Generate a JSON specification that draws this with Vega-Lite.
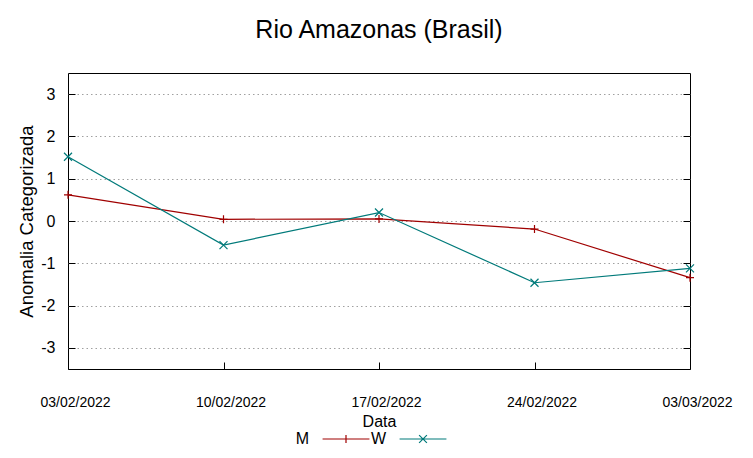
{
  "$schema": "https://vega.github.io/schema/vega-lite/v6.json",
  "width": 622,
  "height": 296,
  "autosize": "none",
  "padding": {"left": 68, "top": 73, "right": 63, "bottom": 89},
  "background": "white",
  "title": {"text": "Rio Amazonas (Brasil)", "fontSize": 25, "font": "Liberation Sans", "fontWeight": "normal", "color": "black", "offset": 30},
  "config": {
    "view": {"stroke": "black", "strokeWidth": 1},
    "font": "Liberation Sans",
    "axis": {"labelColor": "black", "titleColor": "black", "labelFont": "Liberation Sans", "titleFont": "Liberation Sans", "titleFontWeight": "normal", "labelFontWeight": "normal"},
    "axisY": {"titleFontSize": 18.5},
    "axisX": {"titleFontSize": 16},
    "legend": {"symbolType": "M-6,0H6"}
  },
  "data": {
    "values": [
      {"data": "03/02/2022", "serie": "M", "valor": 0.62},
      {"data": "10/02/2022", "serie": "M", "valor": 0.04},
      {"data": "17/02/2022", "serie": "M", "valor": 0.05},
      {"data": "24/02/2022", "serie": "M", "valor": -0.19},
      {"data": "03/03/2022", "serie": "M", "valor": -1.34},
      {"data": "03/02/2022", "serie": "W", "valor": 1.52},
      {"data": "10/02/2022", "serie": "W", "valor": -0.57},
      {"data": "17/02/2022", "serie": "W", "valor": 0.2},
      {"data": "24/02/2022", "serie": "W", "valor": -1.46},
      {"data": "03/03/2022", "serie": "W", "valor": -1.12}
    ]
  },
  "layer": [
    {
      "mark": {"type": "line", "strokeWidth": 1.2, "clip": false},
      "encoding": {
        "x": {
          "field": "data", "type": "ordinal", "sort": null,
          "scale": {"type": "point", "padding": 0},
          "axis": {"title": "Data", "titleFontSize": 16, "titlePadding": 4, "labelFontSize": 14, "labelFontWeight": "normal", "labelAngle": 0, "labelPadding": 33, "labelOffset": 7, "tickSize": -7, "tickColor": "black", "domain": false, "grid": false}
        },
        "y": {
          "field": "valor", "type": "quantitative",
          "scale": {"domain": [-3.5, 3.5], "nice": false, "zero": false},
          "axis": {"title": "Anomalia Categorizada", "titleFontSize": 18.5, "titlePadding": 4, "labelFontSize": 16, "values": [-3, -2, -1, 0, 1, 2, 3], "labelExpr": "'' + datum.value", "labelPadding": 20, "tickSize": -7, "tickColor": "black", "domain": false, "grid": true, "gridColor": "#a0a0a0", "gridDash": [1.5, 3], "gridWidth": 1}
        },
        "color": {
          "field": "serie", "type": "nominal", "scale": {"domain": ["M", "W"], "range": ["#a00000", "#007a7a"]},
          "legend": {
            "title": null, "orient": "none", "direction": "horizontal", "legendX": 270, "legendY": 358,
            "labelFontSize": 16, "labelColor": "black", "labelAlign": "right", "labelOffset": -45, "columnPadding": -2,
            "symbolType": "M-6,0H6", "symbolSize": 61, "symbolStrokeWidth": 1.2,
            "encode": {"symbols": {"update": {"shape": {"signal": "datum.value == 'M' ? 'M-6,0H6M0,-1V1' : 'M-6,0H6M-1,-1L1,1M-1,1L1,-1'"}}}}
          }
        }
      }
    },
    {
      "mark": {"type": "point", "filled": false, "strokeWidth": 1.2, "size": 64, "opacity": 1, "clip": false},
      "encoding": {
        "x": {"field": "data", "type": "ordinal", "sort": null, "scale": {"type": "point", "padding": 0}},
        "y": {
          "field": "valor", "type": "quantitative",
          "scale": {"domain": [-3.5, 3.5], "nice": false, "zero": false},
          "axis": {"orient": "right", "title": null, "labels": false, "values": [-3, -2, -1, 0, 1, 2, 3], "tickSize": -7, "tickColor": "black", "domain": false, "grid": false}
        },
        "color": {
          "field": "serie", "type": "nominal",
          "legend": {
            "title": null, "orient": "none", "direction": "horizontal", "legendX": 270, "legendY": 358,
            "labelFontSize": 16, "labelColor": "black", "labelAlign": "right", "labelOffset": -45, "columnPadding": -2,
            "symbolType": "M-6,0H6", "symbolSize": 61, "symbolStrokeWidth": 1.2,
            "encode": {"symbols": {"update": {"shape": {"signal": "datum.value == 'M' ? 'M-6,0H6M0,-1V1' : 'M-6,0H6M-1,-1L1,1M-1,1L1,-1'"}}}}
          }
        },
        "shape": {"condition": {"test": "datum.serie == 'M'", "value": "M-1,0H1M0,-1V1"}, "value": "M-1,-1L1,1M-1,1L1,-1"}
      }
    }
  ],
  "resolve": {"axis": {"y": "independent"}}
}
